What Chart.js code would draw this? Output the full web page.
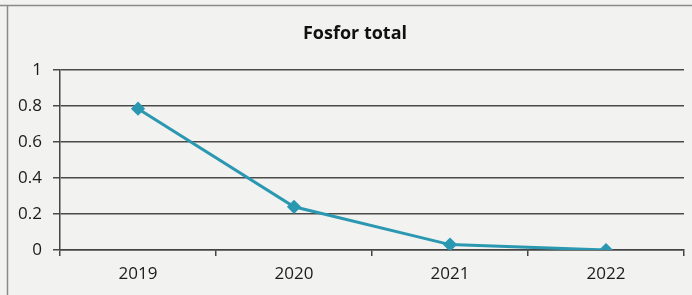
<!DOCTYPE html>
<html><head><meta charset="utf-8">
<script src="https://cdn.jsdelivr.net/npm/chart.js@4/dist/chart.umd.min.js"></script>
<style>html,body{margin:0;padding:0;background:#f2f2f0;}#wrap{width:692px;height:295px;}</style>
</head><body><div id="wrap"><canvas id="c" width="692" height="295"></canvas></div>
<script>
const categories = ["2019", "2020", "2021", "2022"];
const fosforTotal = [0.785, 0.24, 0.03, 0.0];
const yTicks = [0, 0.2, 0.4, 0.6, 0.8, 1];
const chartTitle = "Fosfor total";

const bgPlugin = {
  id: 'bg',
  beforeDraw(chart) {
    const ctx = chart.ctx;
    ctx.save();
    ctx.fillStyle = '#f2f2f0';
    ctx.fillRect(0, 0, chart.width, chart.height);
    ctx.strokeStyle = '#8a8a8a';
    ctx.lineWidth = 1.5;
    ctx.beginPath();
    ctx.moveTo(0, 5.5); ctx.lineTo(chart.width, 5.5);
    ctx.moveTo(7.5, 5); ctx.lineTo(7.5, chart.height);
    ctx.stroke();
    ctx.restore();
  },
  afterDraw(chart) {
    const ctx = chart.ctx;
    ctx.save();
    ctx.fillStyle = '#111';
    ctx.font = 'bold 18px "Open Sans"';
    ctx.textAlign = 'center';
    ctx.textBaseline = 'middle';
    ctx.fillText(chartTitle, 355, 34);
    ctx.restore();
  }
};

new Chart(document.getElementById('c'), {
  type: 'line',
  data: {
    labels: categories,
    datasets: [{
      data: fosforTotal,
      borderColor: '#2b98b2',
      backgroundColor: '#2b98b2',
      borderWidth: 3,
      pointStyle: 'rectRot',
      pointRadius: 5,
      pointHoverRadius: 5,
      tension: 0
    }]
  },
  options: {
    responsive: false,
    animation: false,
    layout: { padding: { top: 70, right: 8, left: 0, bottom: 0 } },
    plugins: {
      legend: { display: false },
      tooltip: { enabled: false },
      title: { display: false }
    },
    scales: {
      x: {
        offset: true,
        grid: { offset: true, drawOnChartArea: false, drawTicks: true, tickLength: 6, color: '#444', lineWidth: 1.5 },
        border: { display: true, color: '#444', width: 1.5 },
        ticks: { color: '#1a1a1a', font: { family: 'Open Sans', size: 17 }, padding: 8, maxRotation: 0 },
        afterFit(s) { s.height = 45; }
      },
      y: {
        min: 0, max: 1,
        afterBuildTicks(s) { s.ticks = yTicks.map(v => ({ value: v })); },
        grid: { color: '#4a4a4a', lineWidth: 1.5, tickLength: 7 },
        border: { display: true, color: '#444', width: 1.5 },
        ticks: { color: '#1a1a1a', font: { family: 'Open Sans', size: 17 }, padding: 11, callback: v => String(v) },
        afterFit(s) { s.width = 60; }
      }
    }
  },
  plugins: [bgPlugin]
});
</script>
</body></html>
